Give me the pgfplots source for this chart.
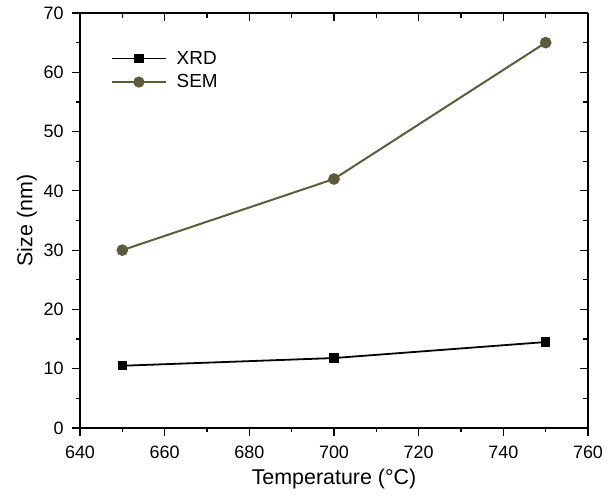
\documentclass[border=0pt]{standalone}
\usepackage{pgfplots}
\pgfplotsset{compat=1.18}
\usepackage{fontspec}
\setmainfont{Liberation Sans}
\definecolor{semcol}{HTML}{5C5C3C}
\begin{document}
\begin{tikzpicture}
\path[use as bounding box] (-80bp,-68bp) rectangle (536bp,428bp);
\begin{axis}[
  scale only axis, width=508bp, height=415bp,
  xmin=640, xmax=760, ymin=0, ymax=70,
  xtick={640,660,...,760}, ytick={0,10,...,70},
  minor x tick num=1, minor y tick num=1,
  axis x line*=bottom, axis y line*=left,
  axis line style={line width=1.2pt, -},
  tick align=outside,
  major tick length=8bp, minor tick length=4bp,
  every tick/.style={line width=1.2pt, black},
  /pgf/number format/assume math mode=true,
  /pgf/number format/1000 sep={},
  ticklabel style={font=\fontsize{18}{22}\selectfont},
  xticklabel style={yshift=-6bp},
  yticklabel style={xshift=-5bp},
  label style={font=\fontsize{21.5}{25}\selectfont},
  xlabel={Temperature (\textdegree C)},
  ylabel={Size (nm)},
  xlabel style={yshift=-4bp},
  ylabel style={yshift=0bp},
  legend style={draw=none, fill=none, at={(0.055,0.918)}, anchor=north west,
    font=\fontsize{19}{23}\selectfont, row sep=5bp},
  legend cell align=left,
  legend image code/.code={\draw[mark repeat=2,mark phase=2,line width=1.6pt,#1] plot coordinates {(0bp,0bp) (27bp,0bp) (54bp,0bp)};},
]
\addplot[black, line width=1.8pt, mark=square*, mark size=3.8bp, mark options={solid}]
  coordinates {(650,10.5) (700,11.8) (750,14.5)};
\addlegendentry{\hspace*{8bp}XRD}
\addplot[semcol, line width=2pt, mark=*, mark size=4.8bp, mark options={solid, fill=semcol}]
  coordinates {(650,30) (700,42) (750,65)};
\addlegendentry{\hspace*{8bp}SEM}
\end{axis}
\begin{axis}[
  scale only axis, width=508bp, height=415bp,
  xmin=640, xmax=760, ymin=0, ymax=70,
  xtick={640,660,...,760}, ytick={0,10,...,70},
  minor x tick num=1, minor y tick num=1,
  axis x line*=top, axis y line*=right,
  axis line style={line width=1.2pt, -},
  tick align=inside,
  major tick length=8bp, minor tick length=5bp,
  every tick/.style={line width=1.2pt, black},
  xticklabels={}, yticklabels={},
]
\end{axis}
\end{tikzpicture}
\end{document}
